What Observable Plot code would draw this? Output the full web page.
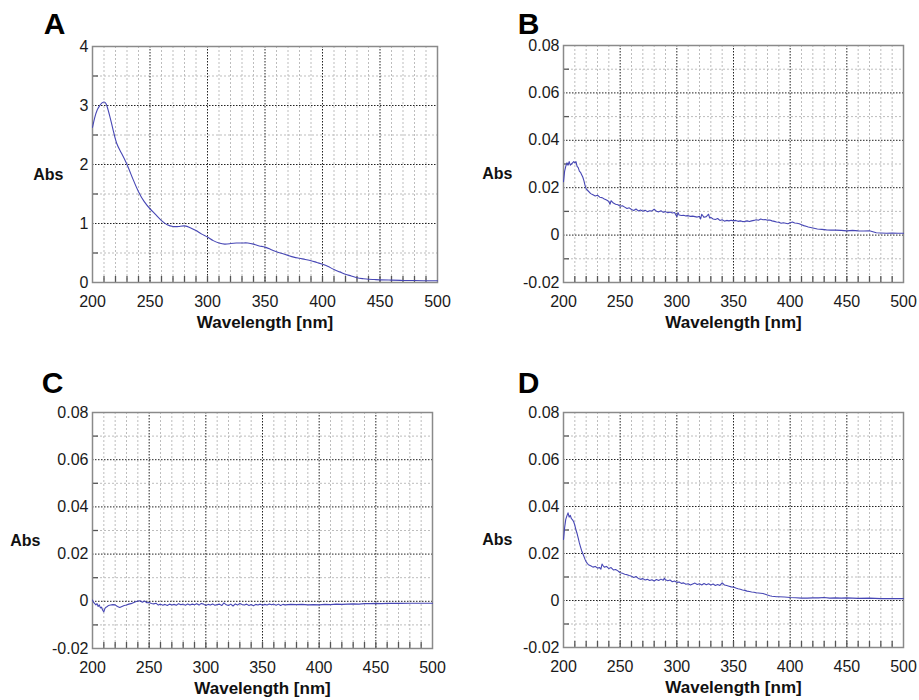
<!DOCTYPE html>
<html>
<head>
<meta charset="utf-8">
<script src="https://cdn.jsdelivr.net/npm/d3@7"></script>
<script src="https://cdn.jsdelivr.net/npm/@observablehq/plot@0.6"></script>
<style>
  html, body { margin: 0; padding: 0; background: #fff; }
  #root { position: relative; width: 919px; height: 700px; background: #fff; overflow: hidden; }
  .panel { position: absolute; }
</style>
</head>
<body>
<div id="root"></div>
<script>
// ---------- data (wavelength nm, absorbance) ----------
const spectrumA = [
  [200,2.63],[202,2.80],[204,2.92],[206,2.99],[208,3.04],[210,3.06],[212,3.02],[215,2.82],[218,2.58],[221,2.36],
  [225,2.20],[230,2.00],[235,1.76],[240,1.54],[245,1.37],[250,1.25],[255,1.15],[260,1.05],[265,0.98],[270,0.95],
  [275,0.95],[280,0.96],[285,0.93],[290,0.88],[295,0.82],[300,0.77],[305,0.71],[310,0.67],[315,0.65],[320,0.66],
  [325,0.67],[330,0.67],[335,0.67],[340,0.65],[345,0.62],[350,0.60],[355,0.56],[360,0.52],[365,0.49],[370,0.46],
  [375,0.43],[380,0.41],[385,0.39],[390,0.37],[395,0.34],[400,0.31],[405,0.27],[410,0.22],[415,0.18],[420,0.14],
  [425,0.11],[430,0.08],[435,0.065],[440,0.055],[445,0.05],[450,0.045],[460,0.04],[470,0.035],[480,0.033],[490,0.03],[500,0.03]
];
const spectrumB = [
  [200,0.0225],[201,0.027],[202,0.029],[203,0.0305],[204,0.0295],[205,0.031],[206,0.0295],[207,0.030],[208,0.0305],[209,0.031],
  [210,0.0305],[211,0.031],[212,0.029],[213,0.0285],[214,0.027],[215,0.0265],[216,0.0255],[217,0.0245],[218,0.023],[219,0.021],
  [220,0.0195],[222,0.0185],[224,0.0175],[226,0.017],[228,0.0165],[230,0.0168],[232,0.016],[234,0.0158],[236,0.0152],[238,0.0148],
  [240,0.0142],[241,0.013],[242,0.0145],[244,0.0135],[246,0.013],[248,0.0128],[250,0.0122],[252,0.0124],[254,0.0118],[256,0.0112],
  [258,0.0115],[260,0.0108],[262,0.0104],[264,0.011],[266,0.0102],[268,0.0106],[270,0.0101],[272,0.0105],[274,0.0099],[276,0.0103],
  [278,0.0102],[280,0.0109],[282,0.0101],[284,0.0098],[286,0.0103],[288,0.0096],[290,0.0099],[292,0.0094],[294,0.0097],[296,0.0093],
  [298,0.0095],[300,0.0078],[301,0.0095],[302,0.0085],[304,0.0083],[306,0.0084],[308,0.0081],[310,0.0082],[312,0.0079],[314,0.008],
  [316,0.0078],[318,0.0076],[320,0.0079],[321,0.0068],[322,0.0088],[324,0.0075],[326,0.0078],[328,0.0088],[329,0.0072],[330,0.0075],
  [332,0.0068],[334,0.0066],[336,0.007],[338,0.0062],[340,0.0065],[342,0.0059],[344,0.0062],[346,0.006],[348,0.0063],[350,0.006],
  [352,0.0062],[354,0.0058],[356,0.006],[358,0.0057],[360,0.0058],[362,0.006],[364,0.0057],[366,0.006],[368,0.0062],[370,0.0065],
  [372,0.0063],[374,0.0068],[376,0.0065],[378,0.0066],[380,0.0063],[382,0.0064],[384,0.006],[386,0.0058],[388,0.0055],[390,0.0054],
  [392,0.005],[394,0.0052],[396,0.005],[398,0.0048],[400,0.0052],[402,0.0055],[404,0.0051],[406,0.005],[408,0.0048],[410,0.0044],
  [412,0.004],[414,0.0037],[416,0.0034],[418,0.0032],[420,0.003],[424,0.0026],[428,0.0024],[432,0.0022],[436,0.0021],[440,0.0021],
  [445,0.002],[450,0.0018],[455,0.002],[460,0.0018],[465,0.0017],[470,0.0018],[473,0.0014],[476,0.001],[480,0.0009],[485,0.0008],
  [490,0.0009],[495,0.0008],[500,0.0008]
];
const spectrumC = [
  [200,0.0005],[201,-0.0005],[202,-0.001],[203,-0.0015],[204,-0.001],[205,-0.0022],[206,-0.0015],[207,-0.0028],[208,-0.0025],[209,-0.0038],
  [210,-0.0045],[211,-0.003],[212,-0.0025],[213,-0.0022],[214,-0.0018],[216,-0.0016],[218,-0.0014],[220,-0.0015],[222,-0.0022],[224,-0.0026],
  [226,-0.0022],[228,-0.0018],[230,-0.0016],[232,-0.0012],[234,-0.001],[236,-0.0006],[238,-0.0002],[240,0.0001],[242,0.0002],[244,-0.0004],
  [246,0.0001],[248,-0.0006],[250,-0.0005],[252,-0.0009],[254,-0.0011],[256,-0.0008],[258,-0.0016],[260,-0.0012],[262,-0.0017],[264,-0.0013],
  [266,-0.0018],[268,-0.0012],[270,-0.0016],[272,-0.0013],[274,-0.0017],[276,-0.001],[278,-0.0015],[280,-0.0012],[282,-0.0017],[284,-0.0011],
  [286,-0.0016],[288,-0.0012],[290,-0.0015],[292,-0.001],[294,-0.0016],[296,-0.0009],[298,-0.0012],[300,-0.0018],[302,-0.0013],[304,-0.0016],
  [306,-0.0011],[308,-0.0017],[310,-0.0014],[312,-0.0012],[314,-0.0018],[316,-0.0007],[318,-0.0015],[320,-0.0018],[322,-0.0012],[324,-0.002],
  [326,-0.0011],[328,-0.0016],[330,-0.0009],[332,-0.0014],[334,-0.0016],[336,-0.0012],[338,-0.0018],[340,-0.0014],[342,-0.0019],[344,-0.0013],
  [346,-0.0016],[348,-0.0012],[350,-0.0017],[352,-0.0013],[354,-0.0016],[356,-0.0011],[358,-0.0015],[360,-0.0012],[362,-0.0017],[364,-0.0012],
  [366,-0.0018],[368,-0.0013],[370,-0.0015],[375,-0.0013],[380,-0.0014],[385,-0.0013],[390,-0.0015],[395,-0.0014],[400,-0.0015],[405,-0.0013],
  [410,-0.0014],[415,-0.0012],[420,-0.0013],[425,-0.0012],[430,-0.0011],[435,-0.0012],[440,-0.001],[445,-0.001],[450,-0.0009],[455,-0.001],
  [460,-0.0009],[470,-0.0009],[480,-0.0008],[490,-0.0008],[500,-0.0008]
];
const spectrumD = [
  [200,0.026],[201,0.031],[202,0.0345],[203,0.036],[204,0.0373],[205,0.0355],[206,0.0362],[207,0.0348],[208,0.0343],[209,0.0335],
  [210,0.032],[211,0.030],[212,0.0285],[213,0.0265],[214,0.0245],[215,0.0228],[216,0.0212],[217,0.02],[218,0.0188],[219,0.0175],
  [220,0.0165],[221,0.0158],[222,0.0152],[224,0.0148],[226,0.0142],[228,0.0145],[230,0.0138],[232,0.014],[233,0.0133],[234,0.0155],
  [235,0.0148],[236,0.0142],[238,0.0145],[240,0.0136],[242,0.014],[244,0.013],[246,0.0132],[248,0.0126],[250,0.0118],[252,0.0116],
  [254,0.0112],[256,0.011],[258,0.0106],[260,0.0103],[262,0.0098],[264,0.0102],[266,0.0094],[268,0.009],[270,0.0093],[272,0.0087],
  [274,0.009],[276,0.0085],[278,0.0088],[280,0.0083],[282,0.0089],[284,0.0085],[286,0.0091],[288,0.0086],[289,0.0095],[290,0.0088],
  [292,0.0084],[294,0.0087],[296,0.008],[298,0.0083],[300,0.0077],[302,0.0079],[304,0.0073],[306,0.0075],[308,0.0069],[310,0.0071],
  [312,0.0066],[314,0.007],[316,0.0074],[318,0.0068],[320,0.0071],[322,0.0066],[324,0.0072],[326,0.0067],[328,0.0071],[330,0.0066],
  [332,0.007],[334,0.0064],[336,0.0068],[338,0.0064],[340,0.0075],[342,0.0066],[344,0.0064],[346,0.0061],[348,0.0058],[350,0.0057],
  [352,0.0053],[354,0.005],[356,0.0048],[358,0.0045],[360,0.0043],[362,0.004],[364,0.0038],[366,0.0036],[368,0.0035],[370,0.0033],
  [372,0.0032],[374,0.0031],[376,0.003],[378,0.0027],[380,0.0023],[382,0.002],[384,0.0018],[386,0.0017],[388,0.0016],[390,0.0016],
  [395,0.0015],[400,0.0013],[405,0.0012],[410,0.001],[415,0.001],[420,0.0011],[425,0.0011],[430,0.0013],[435,0.001],[440,0.0011],
  [445,0.001],[450,0.0011],[460,0.0009],[470,0.001],[480,0.0008],[490,0.0008],[500,0.0008]
];

// ---------- axes / ticks ----------
const xDomain = [200, 500];
const xMajorTicks = [200, 250, 300, 350, 400, 450, 500];
const xMinorTicks = [210,220,230,240,260,270,280,290,310,320,330,340,360,370,380,390,410,420,430,440,460,470,480,490];
const xAllTicks = [210,220,230,240,250,260,270,280,290,300,310,320,330,340,350,360,370,380,390,400,410,420,430,440,450,460,470,480,490];

const yDomainA = [0, 4];
const yMajorA = [0, 1, 2, 3, 4];
const yMinorA = [0.5, 1.5, 2.5, 3.5];
const yDomainSmall = [-0.02, 0.08];
const yMajorSmall = [-0.02, 0, 0.02, 0.04, 0.06, 0.08];
const yMinorSmall = [-0.01, 0.01, 0.03, 0.05, 0.07];

const yLabel = "Abs";
const xLabel = "Wavelength [nm]";

// ---------- layout per panel ----------
const fmtSmall = d => d === 0 ? "0" : d.toFixed(2);
const panels = [
  {letter: "A", data: spectrumA, yDomain: yDomainA, yMajor: yMajorA, yMinor: yMinorA, fmt: d => String(d), curve: "natural",
   left: 0, top: 0, width: 460, height: 345, mL: 92, mR: 23, mT: 46, mB: 63, absDx: -29, letterDx: -38, letterDy: -22},
  {letter: "B", data: spectrumB, yDomain: yDomainSmall, yMajor: yMajorSmall, yMinor: yMinorSmall, fmt: fmtSmall, curve: "linear",
   left: 460, top: 0, width: 459, height: 345, mL: 103, mR: 16, mT: 45, mB: 63, absDx: -51, letterDx: -35, letterDy: -21},
  {letter: "C", data: spectrumC, yDomain: yDomainSmall, yMajor: yMajorSmall, yMinor: yMinorSmall, fmt: fmtSmall, curve: "linear",
   left: 0, top: 360, width: 460, height: 340, mL: 92, mR: 28, mT: 52, mB: 52, absDx: -52, letterDx: -40, letterDy: -29},
  {letter: "D", data: spectrumD, yDomain: yDomainSmall, yMajor: yMajorSmall, yMinor: yMinorSmall, fmt: fmtSmall, curve: "linear",
   left: 460, top: 360, width: 459, height: 340, mL: 103, mR: 16, mT: 52, mB: 53, absDx: -51, letterDx: -35, letterDy: -29}
];

const root = document.getElementById("root");
const FONT = "'Liberation Sans', Arial, Helvetica, sans-serif";
const lineColor = "#4747b5";

for (const p of panels) {
  const innerW = p.width - p.mL - p.mR;
  const innerH = p.height - p.mT - p.mB;
  const yInnerMajor = p.yMajor.slice(1, -1);
  const xInnerMajor = xMajorTicks.slice(1, -1);
  const rows = p.data.map(([wl, a]) => ({wl, a}));

  const chart = Plot.plot({
    width: p.width,
    height: p.height,
    marginLeft: p.mL,
    marginRight: p.mR,
    marginTop: p.mT,
    marginBottom: p.mB,
    style: {fontFamily: FONT, fontSize: "16px", color: "#1a1a1a", background: "transparent", overflow: "visible"},
    x: {domain: xDomain, ticks: xMajorTicks, tickFormat: d => String(d), tickSize: 0, tickPadding: 13, label: null},
    y: {domain: p.yDomain, ticks: p.yMajor, tickFormat: p.fmt, tickSize: 0, tickPadding: 4, label: null},
    marks: [
      Plot.ruleX(xMinorTicks, {stroke: "#bdbdbd", strokeWidth: 1, strokeDasharray: "2,2"}),
      Plot.ruleY(p.yMinor, {stroke: "#bdbdbd", strokeWidth: 1, strokeDasharray: "2,2"}),
      Plot.ruleX(xInnerMajor, {stroke: "#222", strokeWidth: 1, strokeDasharray: "1.5,1.5"}),
      Plot.ruleY(yInnerMajor, {stroke: "#222", strokeWidth: 1, strokeDasharray: "1.5,1.5"}),
      Plot.tickX(xAllTicks, {stroke: "#555", strokeWidth: 1.3, insetTop: innerH - 6}),
      Plot.tickY(p.yMinor, {stroke: "#555", strokeWidth: 1.3, insetRight: innerW - 6}),
      Plot.frame({stroke: "#8a8a8a", strokeWidth: 1.5}),
      Plot.line(rows, {x: "wl", y: "a", stroke: lineColor, strokeWidth: 1.1, curve: p.curve}),
      Plot.text([p.letter], {frameAnchor: "top-left", dx: p.letterDx, dy: p.letterDy, lineAnchor: "middle", fontSize: 30, fontWeight: "bold", textAnchor: "middle", fill: "#000"}),
      Plot.text([yLabel], {frameAnchor: "left", dx: p.absDx, dy: 10, lineAnchor: "middle", fontSize: 16, fontWeight: "bold", textAnchor: "end", fill: "#111"}),
      Plot.text([xLabel], {frameAnchor: "bottom", dy: 40, lineAnchor: "middle", fontSize: 17, fontWeight: "bold", fill: "#111"})
    ]
  });
  const div = document.createElement("div");
  div.className = "panel";
  div.style.left = p.left + "px";
  div.style.top = p.top + "px";
  div.appendChild(chart);
  root.appendChild(div);
}
</script>
</body>
</html>
